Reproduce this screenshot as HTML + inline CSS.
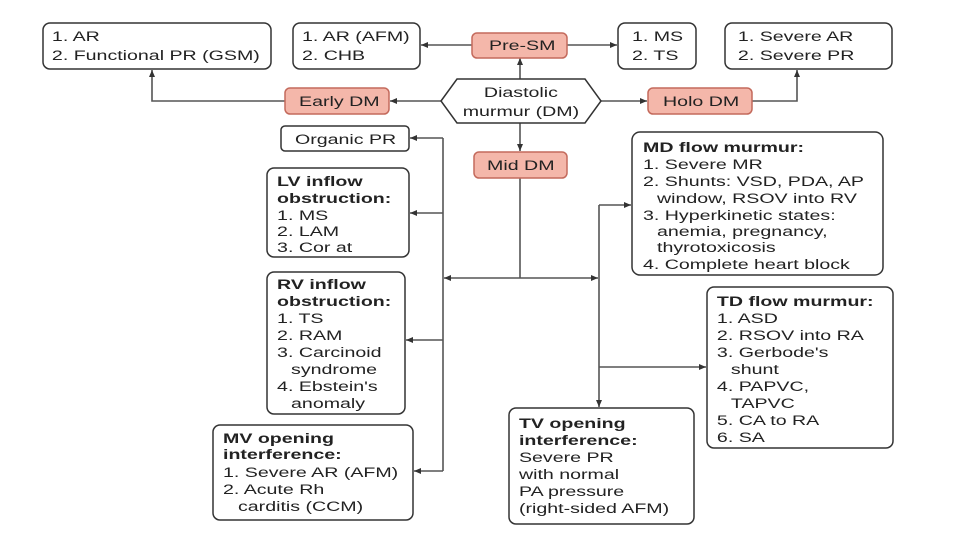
<!DOCTYPE html>
<html><head><style>
body{margin:0;background:#fff;}
svg{display:block;font-family:"Liberation Sans",Arial,sans-serif;}
.b{fill:#fff;stroke:#333;stroke-width:1.5;}
.s{fill:#f4b7aa;stroke:#c46a5c;stroke-width:1.5;}
.l{fill:none;stroke:#555;stroke-width:1.6;}
text{font-size:14px;fill:#222;}
.h{font-weight:bold;}
</style></head><body>
<svg width="960" height="540" viewBox="0 0 960 540">
<defs>
<marker id="a" markerWidth="8" markerHeight="8" refX="7" refY="4" orient="auto" markerUnits="userSpaceOnUse"><path d="M0,1 L7,4 L0,7 Z" fill="#333"/></marker>
</defs>
<path class="l" d="M472,45 L421,45" marker-end="url(#a)"/>
<path class="l" d="M567,45 L617,45" marker-end="url(#a)"/>
<path class="l" d="M520,79 L520,58" marker-end="url(#a)"/>
<path class="l" d="M441,101 L390,101" marker-end="url(#a)"/>
<path class="l" d="M285,101 L152,101 L152,70" marker-end="url(#a)"/>
<path class="l" d="M601,101 L647,101" marker-end="url(#a)"/>
<path class="l" d="M752,101 L797,101 L797,70" marker-end="url(#a)"/>
<path class="l" d="M520,123 L520,151" marker-end="url(#a)"/>
<path class="l" d="M520,178 L520,278"/>
<path class="l" d="M520,278 L444,278" marker-end="url(#a)"/>
<path class="l" d="M520,278 L598,278" marker-end="url(#a)"/>
<path class="l" d="M443,138 L443,471"/>
<path class="l" d="M443,138 L410,138" marker-end="url(#a)"/>
<path class="l" d="M443,213 L410,213" marker-end="url(#a)"/>
<path class="l" d="M443,340 L406,340" marker-end="url(#a)"/>
<path class="l" d="M443,471 L414,471" marker-end="url(#a)"/>
<path class="l" d="M599,205 L599,407" marker-end="url(#a)"/>
<path class="l" d="M599,205 L631,205" marker-end="url(#a)"/>
<path class="l" d="M599,367 L706,367" marker-end="url(#a)"/>
<rect class="b" x="43" y="23" width="228" height="46" rx="7"/>
<rect class="b" x="293" y="23" width="127" height="46" rx="7"/>
<rect class="s" x="472" y="33" width="95" height="25" rx="5"/>
<rect class="b" x="618" y="23" width="78" height="46" rx="7"/>
<rect class="b" x="725" y="23" width="167" height="46" rx="7"/>
<polygon class="b" points="441,101 457,79 585,79 601,101 585,123 457,123"/>
<rect class="s" x="285" y="88" width="104" height="26" rx="5"/>
<rect class="s" x="648" y="88" width="104" height="26" rx="5"/>
<rect class="b" x="281" y="126" width="128" height="25" rx="4"/>
<rect class="s" x="474" y="152" width="93" height="26" rx="5"/>
<rect class="b" x="267" y="168" width="142" height="89" rx="7"/>
<rect class="b" x="267" y="272" width="138" height="142" rx="7"/>
<rect class="b" x="213" y="425" width="200" height="95" rx="7"/>
<rect class="b" x="632" y="132" width="251" height="143" rx="8"/>
<rect class="b" x="707" y="287" width="186" height="161" rx="7"/>
<rect class="b" x="509" y="408" width="185" height="116" rx="7"/>
<g transform="scale(1.4,1)">
<text x="37.1" y="41">1. AR</text><text x="37.1" y="60">2. Functional PR (GSM)</text>
<text x="215.7" y="41">1. AR (AFM)</text><text x="215.7" y="60">2. CHB</text>
<text x="349.3" y="50">Pre-SM</text>
<text x="451.4" y="41">1. MS</text><text x="451.4" y="60">2. TS</text>
<text x="527.1" y="41">1. Severe AR</text><text x="527.1" y="60">2. Severe PR</text>
<text x="372.1" y="97" text-anchor="middle">Diastolic</text><text x="372.1" y="116" text-anchor="middle">murmur (DM)</text>
<text x="213.6" y="106">Early DM</text>
<text x="473.6" y="106">Holo DM</text>
<text x="210.7" y="144">Organic PR</text>
<text x="347.9" y="170">Mid DM</text>
<text x="197.9" y="186" class="h">LV inflow</text><text x="197.9" y="203" class="h">obstruction:</text>
<text x="197.9" y="220">1. MS</text><text x="197.9" y="236">2. LAM</text><text x="197.9" y="252">3. Cor at</text>
<text x="197.9" y="289" class="h">RV inflow</text><text x="197.9" y="306" class="h">obstruction:</text>
<text x="197.9" y="323">1. TS</text><text x="197.9" y="340">2. RAM</text><text x="197.9" y="357">3. Carcinoid</text>
<text x="207.9" y="374">syndrome</text><text x="197.9" y="391">4. Ebstein's</text><text x="207.9" y="408">anomaly</text>
<text x="159.3" y="443" class="h">MV opening</text><text x="159.3" y="459" class="h">interference:</text>
<text x="159.3" y="477">1. Severe AR (AFM)</text><text x="159.3" y="494">2. Acute Rh</text><text x="170" y="511">carditis (CCM)</text>
<text x="459.3" y="152" class="h">MD flow murmur:</text>
<text x="459.3" y="169">1. Severe MR</text><text x="459.3" y="186">2. Shunts: VSD, PDA, AP</text>
<text x="469.3" y="203">window, RSOV into RV</text><text x="459.3" y="220">3. Hyperkinetic states:</text>
<text x="469.3" y="236">anemia, pregnancy,</text><text x="469.3" y="252">thyrotoxicosis</text>
<text x="459.3" y="269">4. Complete heart block</text>
<text x="512.1" y="306" class="h">TD flow murmur:</text>
<text x="512.1" y="323">1. ASD</text><text x="512.1" y="340">2. RSOV into RA</text><text x="512.1" y="357">3. Gerbode's</text>
<text x="522.1" y="374">shunt</text><text x="512.1" y="391">4. PAPVC,</text><text x="522.1" y="408">TAPVC</text>
<text x="512.1" y="425">5. CA to RA</text><text x="512.1" y="442">6. SA</text>
<text x="370.7" y="428" class="h">TV opening</text><text x="370.7" y="445" class="h">interference:</text>
<text x="370.7" y="462">Severe PR</text><text x="370.7" y="479">with normal</text>
<text x="370.7" y="496">PA pressure</text><text x="370.7" y="513">(right-sided AFM)</text>
</g>
</svg>
</body></html>
